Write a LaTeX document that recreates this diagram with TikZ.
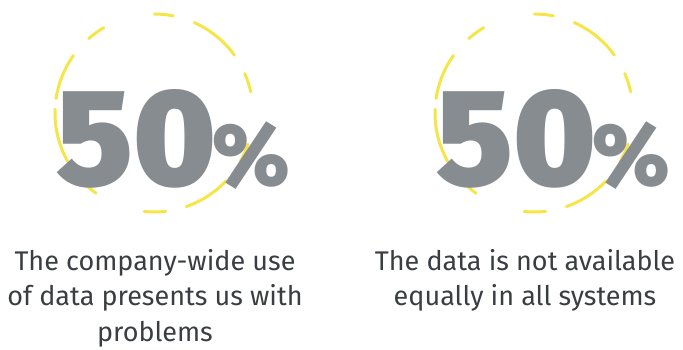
\documentclass[tikz,border=0pt]{standalone}
\usepackage{fontspec}
\setmainfont{Fira Sans}
\newfontfamily\numberFont{Fira Sans Black}
\usepackage{tikz}
\usetikzlibrary{positioning}
\definecolor{ringColor}{RGB}{246,229,72}
\definecolor{numberColor}{RGB}{135,140,145}
\definecolor{labelColor}{RGB}{58,62,66}
\tikzstyle{ringDash} = [color=ringColor, line width=3pt, line cap=round]
\tikzstyle{bigNumber} = [color=numberColor, inner sep=0, anchor=base west, font=\numberFont\fontsize{138}{138}\selectfont]
\tikzstyle{labelText} = [color=labelColor, inner sep=0, anchor=north, align=center, font=\fontsize{27}{35.5}\selectfont]
\newcommand{\ringRadius}{99}
\newcommand{\ringArc}[4]{\draw [ringDash] (#1,#2) ++(#3:\ringRadius) arc (#3:#4:\ringRadius);}
\newcommand{\dashedRing}[2]{
  \foreach \from/\to in {144.5/171.6, 120.5/131.3, 78.7/89.8, 35.7/66.0, 12.3/23.5,
                          -29.2/-18.3, -70.9/-43.3, -95.7/-83.2, -137.2/-125.8, 177.8/209.2} {
    \ringArc{#1}{#2}{\from}{\to}
  }
}
\newcommand{\smallPercent}{{\kern-4pt\fontsize{88}{88}\selectfont\%}}

\begin{document}
\begin{tikzpicture}[x = 1pt, y = 1pt]
  \useasboundingbox (0,0) rectangle (683,349);
  \dashedRing{154}{236}
  \dashedRing{534}{236}

  \node [bigNumber] (leftNumber) at (56,164) {50\smallPercent};
  \node [bigNumber] (rightNumber) at (436,164) {50\smallPercent};

  \node [labelText] (leftLabel) at (155,100) {The company-wide use\\of data presents us with\\problems};
  \node [labelText] (rightLabel) at (525,100) {The data is not available\\equally in all systems};
\end{tikzpicture}
\end{document}
